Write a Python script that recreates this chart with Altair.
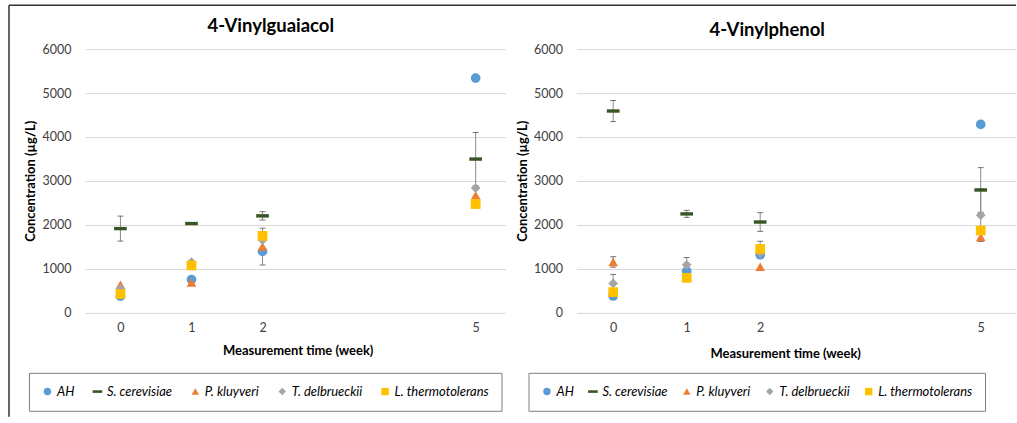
import altair as alt
import pandas as pd

FONT = "Lato"

WEEKS = [0, 1, 2, 5]
SERIES = ["AH", "S. cerevisiae", "P. kluyveri", "T. delbrueckii", "L. thermotolerans"]
COLORS = ["#5B9BD5", "#375623", "#ED7D31", "#A5A5A5", "#FFC000"]
DASH = "M-1.3,-0.35H1.3V0.35H-1.3Z"
SHAPES = ["circle", DASH, "triangle-up", "diamond", "square"]
Y_TICKS = [0, 1000, 2000, 3000, 4000, 5000, 6000]

# 4-Vinylguaiacol (µg/L)
vg_ah = [370, 750, 1390, 5340]
vg_sc = [1910, 2025, 2200, 3495]
vg_pk = [630, 680, 1500, 2670]
vg_td = [540, 1145, 1650, 2835]
vg_lt = [420, 1070, 1745, 2470]
vg_sc_err = [285, 20, 95, 605]
vg_pk_err = [0, 0, 420, 0]

# 4-Vinylphenol (µg/L)
vp_ah = [375, 940, 1315, 4285]
vp_sc = [4590, 2245, 2060, 2790]
vp_pk = [1150, 810, 1040, 1715]
vp_td = [660, 1085, 1350, 2215]
vp_lt = [462, 787, 1447, 1866]
vp_sc_err = [240, 80, 213, 510]
vp_pk_err = [120, 0, 0, 0]
vp_td_err = [205, 165, 0, 600]
vp_lt_err = [0, 0, 175, 0]


def points_frame(cols):
    rows = []
    for name, vals in zip(SERIES, cols):
        for w, v in zip(WEEKS, vals):
            rows.append({"series": name, "week": w, "conc": v})
    return pd.DataFrame(rows)


def error_frame(cols, errs):
    rows = []
    for name, vals in zip(SERIES, cols):
        e = errs.get(name)
        if not e:
            continue
        for w, v, d in zip(WEEKS, vals, e):
            if d > 0:
                rows.append({"series": name, "week": w, "lo": v - d, "hi": v + d})
    return pd.DataFrame(rows)


def panel(title, pts, errs, width, x_max, title_dx, title_offset, xtitle_x, xtitle_y,
          legend_x, legend_gap, with_frame):
    x_scale = alt.Scale(domain=[-0.5, x_max], nice=False, zero=False)
    x_axis = alt.Axis(values=WEEKS, grid=False, ticks=False, tickSize=0, domain=False,
                      labelPadding=9, title="Measurement time (week)",
                      titleX=xtitle_x, titleY=xtitle_y, titleBaseline="middle")
    y_scale = alt.Scale(domain=[0, 6000], nice=False)
    y_axis = alt.Axis(values=Y_TICKS, format="d", grid=True, gridColor="#d9d9d9",
                      ticks=False, tickSize=0, domain=False, labelPadding=14,
                      title="Concentration (µg/L)", titleX=-54, titleBaseline="middle")
    legend = alt.Legend(orient="none", legendX=legend_x, legendY=324,
                        direction="horizontal", title=None,
                        strokeColor="#7f7f7f", padding=12, symbolSize=55,
                        symbolStrokeWidth=0, labelFontSize=13,
                        labelFontStyle="italic", columnPadding=legend_gap, labelOffset=3)

    x = alt.X("week:Q", scale=x_scale, axis=x_axis)

    bars = alt.Chart(errs).mark_rule(color="#8c8c8c", strokeWidth=1).encode(
        x=x,
        y=alt.Y("lo:Q", scale=y_scale, axis=y_axis),
        y2="hi:Q",
    )
    caps = alt.Chart(errs).transform_fold(["lo", "hi"], as_=["end", "cap"]).mark_tick(
        orient="horizontal", color="#404040", size=6, thickness=1
    ).encode(
        x=x,
        y=alt.Y("cap:Q", scale=y_scale, axis=y_axis),
    )
    marks = alt.Chart(pts).mark_point(filled=True, opacity=1, size=95, strokeWidth=0).encode(
        x=x,
        y=alt.Y("conc:Q", scale=y_scale, axis=y_axis),
        color=alt.Color("series:N", scale=alt.Scale(domain=SERIES, range=COLORS), legend=legend),
        shape=alt.Shape("series:N", scale=alt.Scale(domain=SERIES, range=SHAPES), legend=legend),
    )

    layers = [bars, caps, marks]
    if with_frame:
        one = pd.DataFrame({"k": [0]})
        side = alt.Chart(one).mark_rule(color="#333333", strokeWidth=1.5).encode(
            x=alt.value(-76), y=alt.value(-44), y2=alt.value(368)
        )
        top = alt.Chart(one).mark_rule(color="#333333", strokeWidth=1.5).encode(
            x=alt.value(-76), x2=alt.value(932), y=alt.value(-44)
        )
        layers = [side, top] + layers

    return alt.layer(*layers).properties(
        width=width,
        height=263.5,
        title=alt.TitleParams(title, fontSize=18.5, fontWeight="bold", anchor="middle",
                              frame="group", dx=title_dx, offset=title_offset,
                              color="#000000"),
    )


vg_pts = points_frame([vg_ah, vg_sc, vg_pk, vg_td, vg_lt])
vg_err = error_frame([vg_ah, vg_sc, vg_pk, vg_td, vg_lt],
                     {"S. cerevisiae": vg_sc_err, "P. kluyveri": vg_pk_err})
vp_pts = points_frame([vp_ah, vp_sc, vp_pk, vp_td, vp_lt])
vp_err = error_frame([vp_ah, vp_sc, vp_pk, vp_td, vp_lt],
                     {"S. cerevisiae": vp_sc_err, "P. kluyveri": vp_pk_err,
                      "T. delbrueckii": vp_td_err, "L. thermotolerans": vp_lt_err})

left = panel("4-Vinylguaiacol", vg_pts, vg_err, 421, 5.42, -24.5, -31.5, 213, 38, -56, 16, True)
right = panel("4-Vinylphenol", vp_pts, vp_err, 440, 5.48, -29, 4, 209, 41, -48, 12, False)

chart = alt.hconcat(left, right, spacing=71, bounds="flush").resolve_scale(
    x="independent", y="independent", color="independent", shape="independent"
).resolve_legend(color="independent", shape="independent").properties(
    padding={"left": 8, "top": 4, "right": 0, "bottom": 0},
    background="#ffffff",
).configure(font=FONT).configure_view(stroke=None).configure_axis(
    labelFont=FONT, labelFontSize=12.5, labelColor="#404040",
    titleFont=FONT, titleFontSize=13, titleFontWeight="bold", titleColor="#000000",
).configure_legend(labelFont=FONT, labelColor="#000000").configure_title(font=FONT)

chart.save("out.html", embed_options={"renderer": "svg", "actions": False})
